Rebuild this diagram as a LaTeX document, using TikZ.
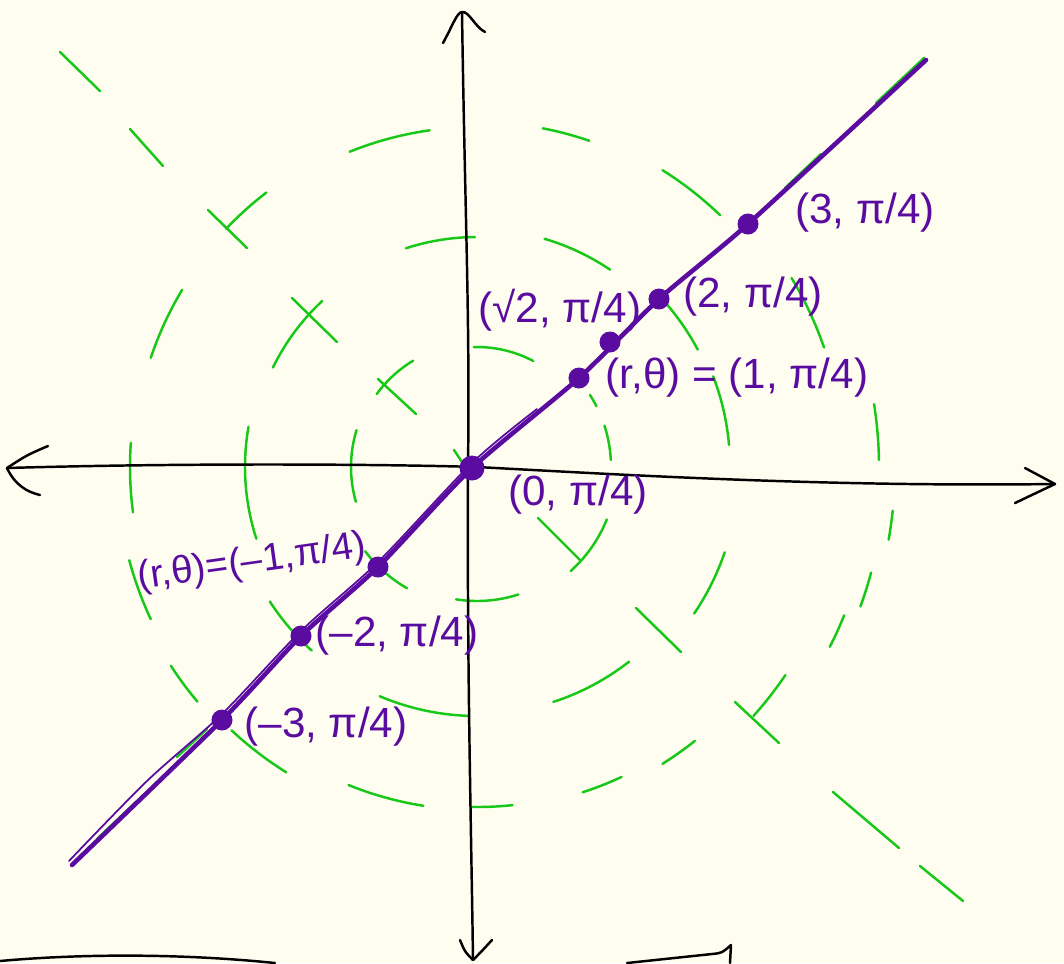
\documentclass[tikz,border=0pt]{standalone}
\usepackage{fontspec}
\setmainfont{Liberation Sans}
\usepackage{xcolor}
\usepackage{tikz}
\usetikzlibrary{positioning}
\definecolor{paper}{HTML}{FEFDF0}
\definecolor{purp}{HTML}{5A0CA0}
\definecolor{grn}{HTML}{18C818}

\begin{document}
\begin{tikzpicture}[x=0.01cm, y=0.01cm, line cap=round, line join=round, axis/.style={black, line width=0.7pt}, guide/.style={grn, line width=0.7pt}, ray/.style={purp, line width=1.3pt}, ptdot/.style={circle, fill=purp, inner sep=0pt, minimum size=2.1mm}, lbl/.style={purp, font=\fontsize{12}{12}\selectfont, inner sep=0pt}]
\path[fill=paper, use as bounding box] (-477,-496) rectangle (587,467);

\foreach \r/\a/\b in {346/127.5/136.5, 340/98/112, 230/90.5/108, 344/149/161.5, 227/133/154, 124/121/144, 120/62/91.5, 347/176/187.5, 232/170/198, 126/163/196, 345/71/79, 350/46/58, 238/56/73.5, 250/28/41, 367/19/31, 253/5/21, 402/1/9, 134/27/32.5, 134/3/18, 140/-48/-22, 262/-34/-19, 247/-72/-52, 372/-42/-34, 396/-27/-22, 408/-20/-15, 418/-10/-6, 350/-58/-51.5, 342/-72/-65, 360/195/205, 247/213/228, 365/213/220, 360/227/238, 343/248/261, 340/269/276, 249/247/268, 134/261/288, 140/217/240}
  \draw[guide] (\a:\r) arc[start angle=\a, end angle=\b, radius=\r];
\foreach \xa/\ya/\xb/\yb in {-417/415/-377/376, -347/338/-314/301, -269/257/-230/219, -185/169/-140/125, -99/88/-61/53, -23/17/-15/5, 61/-51/103/-93, 159/-141/204/-185, 258/-235/302/-276, 356/-325/422/-381, 443/-399/486/-434, 399/364/447/409, 308/279/344/313, -380/-372/-340/-334, -300/-290/-270/-262}
  \draw[guide] (\xa,\ya) -- (\xb,\yb);

\draw[axis] (-470,-1) .. controls (-300,4) and (-100,3) .. (0,0) .. controls (150,-8) and (350,-20) .. (578,-17);
\draw[axis] (-429,21) .. controls (-450,12) .. (-470,-1) .. controls (-462,-18) and (-450,-25) .. (-437,-28);
\draw[axis] (548,-1) -- (578,-17) -- (538,-36);
\draw[axis] (-15,455) .. controls (-12,250) and (-7,150) .. (-9,0) .. controls (-10,-200) and (-6,-350) .. (-4,-492);
\draw[axis] (-34,424) .. controls (-25,440) and (-20,455) .. (-15,455) .. controls (-8,456) and (-2,440) .. (8,435);
\draw[axis] (-17,-473) .. controls (-12,-485) .. (-4,-493) .. controls (4,-485) .. (15,-473);
\draw[axis] (-477,-494) .. controls (-400,-487) and (-300,-486) .. (-202,-496);
\draw[axis] (150,-496) -- (235,-487) .. controls (245,-486) .. (254,-478) -- (253,-496);

\coordinate (lo) at (-405,-398);
\coordinate (hi) at (449,407);
\node[ptdot, minimum size=2.5mm] (o) at (-5,-1) {};
\node[ptdot] (p1) at (102,89) {};
\node[ptdot] (ps) at (133,125) {};
\node[ptdot] (p2) at (182,168) {};
\node[ptdot] (p3) at (271,243) {};
\node[ptdot] (m1) at (-99,-100) {};
\node[ptdot] (m2) at (-176,-169) {};
\node[ptdot] (m3) at (-255,-253) {};
\draw[ray] plot[smooth, tension=0.4] coordinates {(lo) (m3.center) (m2.center) (m1.center) (o.center) (p1.center) (p2.center) (p3.center) (hi)};
\draw[purp, line width=0.5pt] plot[smooth, tension=0.5] coordinates {(-408,-394) (-330,-314) (-255,-247) (-176,-164) (-99,-95) (-5,4) (60,58)};

\node[lbl] (t3) at (388,254) {(3, π/4)};
\node[lbl] (t2) at (276,170) {(2, π/4)};
\node[lbl] (ts) at (83,157) {(√2, π/4)};
\node[lbl] (t1) at (260,89) {(r,θ) = (1, π/4)};
\node[lbl] (t0) at (101,-28) {(0, π/4)};
\node[lbl, font=\fontsize{11}{11}\selectfont, rotate=8] (tm1) at (-225,-96) {(r,θ)=(–1,π/4)};
\node[lbl] (tm2) at (-80,-169) {(–2, π/4)};
\node[lbl] (tm3) at (-151,-260) {(–3, π/4)};
\end{tikzpicture}
\end{document}
